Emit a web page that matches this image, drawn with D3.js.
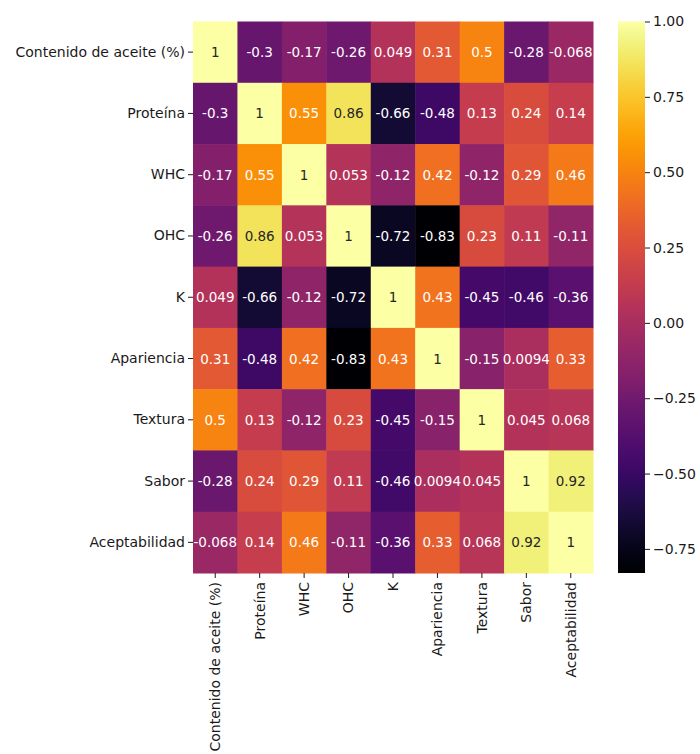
<!DOCTYPE html>
<html>
<head>
<meta charset="utf-8">
<script src="https://cdn.jsdelivr.net/npm/d3@7"></script>
<style>
  html, body { margin: 0; padding: 0; background: #fff; }
  svg { display: block; font-family: "DejaVu Sans", sans-serif; }
</style>
</head>
<body>
<svg id="chart" width="700" height="754"></svg>
<script>
// Variables of the correlation matrix (rows and columns share the same order)
const variables = ["Contenido de aceite (%)", "Proteína", "WHC", "OHC", "K",
                   "Apariencia", "Textura", "Sabor", "Aceptabilidad"];

// Pearson correlations, one row per variable
const rowContenido   = [1, -0.3, -0.17, -0.26, 0.049, 0.31, 0.5, -0.28, -0.068];
const rowProteina    = [-0.3, 1, 0.55, 0.86, -0.66, -0.48, 0.13, 0.24, 0.14];
const rowWHC         = [-0.17, 0.55, 1, 0.053, -0.12, 0.42, -0.12, 0.29, 0.46];
const rowOHC         = [-0.26, 0.86, 0.053, 1, -0.72, -0.83, 0.23, 0.11, -0.11];
const rowK           = [0.049, -0.66, -0.12, -0.72, 1, 0.43, -0.45, -0.46, -0.36];
const rowApariencia  = [0.31, -0.48, 0.42, -0.83, 0.43, 1, -0.15, 0.0094, 0.33];
const rowTextura     = [0.5, 0.13, -0.12, 0.23, -0.45, -0.15, 1, 0.045, 0.068];
const rowSabor       = [-0.28, 0.24, 0.29, 0.11, -0.46, 0.0094, 0.045, 1, 0.92];
const rowAceptab     = [-0.068, 0.14, 0.46, -0.11, -0.36, 0.33, 0.068, 0.92, 1];

// Colorbar tick values
const colorbarTicks = [-0.75, -0.5, -0.25, 0, 0.25, 0.5, 0.75, 1];

const matrix = [rowContenido, rowProteina, rowWHC, rowOHC, rowK,
                rowApariencia, rowTextura, rowSabor, rowAceptab];

const cells = [];
matrix.forEach((row, i) => row.forEach((v, j) => cells.push({r: variables[i], c: variables[j], v})));

const svg = d3.select("#chart");
const plotLeft = 193, plotRight = 593, plotTop = 21.5, plotBottom = 573;
const tickFont = 14, annotFont = 13.5, ink = "#1a1a1a";

const x = d3.scaleBand().domain(variables).range([plotLeft, plotRight]);
const y = d3.scaleBand().domain(variables).range([plotTop, plotBottom]);

const vmin = d3.min(cells, d => d.v), vmax = d3.max(cells, d => d.v);
const color = d3.scaleSequential(d3.interpolateInferno).domain([vmin, vmax]);

// Heatmap cells
svg.append("g").selectAll("rect").data(cells).join("rect")
  .attr("x", d => x(d.c))
  .attr("y", d => y(d.r))
  .attr("width", x.bandwidth() + 0.5)
  .attr("height", y.bandwidth() + 0.5)
  .attr("fill", d => color(d.v));

// Text colour from relative luminance of the cell colour
function luminance(c) {
  const rgb = d3.rgb(c);
  const f = u => { u /= 255; return u <= 0.03928 ? u / 12.92 : Math.pow((u + 0.055) / 1.055, 2.4); };
  return 0.2126 * f(rgb.r) + 0.7152 * f(rgb.g) + 0.0722 * f(rgb.b);
}

svg.append("g").selectAll("text").data(cells).join("text")
  .attr("x", d => x(d.c) + x.bandwidth() / 2)
  .attr("y", d => y(d.r) + y.bandwidth() / 2)
  .attr("text-anchor", "middle")
  .attr("dominant-baseline", "central")
  .attr("font-size", annotFont)
  .attr("fill", d => luminance(color(d.v)) > 0.408 ? "#262626" : "#ffffff")
  .text(d => String(d.v));

// Axes
const yAxis = svg.append("g")
  .attr("transform", `translate(${plotLeft},0)`)
  .call(d3.axisLeft(y).tickSize(5).tickPadding(3));
yAxis.select(".domain").remove();
yAxis.selectAll("text").attr("font-size", tickFont).attr("fill", ink).attr("font-family", "DejaVu Sans");
yAxis.selectAll("line").attr("stroke", ink);

const xAxis = svg.append("g")
  .attr("transform", `translate(0,${plotBottom})`)
  .call(d3.axisBottom(x).tickSize(5).tickPadding(3));
xAxis.select(".domain").remove();
xAxis.selectAll("line").attr("stroke", ink);
xAxis.selectAll("text")
  .attr("font-size", tickFont).attr("fill", ink).attr("font-family", "DejaVu Sans")
  .attr("transform", "rotate(-90)")
  .attr("text-anchor", "end")
  .attr("dy", "0.35em")
  .attr("x", -9)
  .attr("y", 0);

// Colorbar
const cbLeft = 618, cbWidth = 27;
const cbScale = d3.scaleLinear().domain([vmin, vmax]).range([plotBottom, plotTop]);
const defs = svg.append("defs");
const grad = defs.append("linearGradient").attr("id", "cbgrad")
  .attr("x1", 0).attr("y1", 1).attr("x2", 0).attr("y2", 0);
d3.range(0, 1.0001, 0.02).forEach(t => {
  grad.append("stop").attr("offset", t).attr("stop-color", d3.interpolateInferno(t));
});
svg.append("rect")
  .attr("x", cbLeft).attr("y", plotTop)
  .attr("width", cbWidth).attr("height", plotBottom - plotTop)
  .attr("fill", "url(#cbgrad)");

const cbAxis = svg.append("g")
  .attr("transform", `translate(${cbLeft + cbWidth},0)`)
  .call(d3.axisRight(cbScale).tickValues(colorbarTicks).tickSize(5).tickPadding(3)
    .tickFormat(d => d3.format(".2f")(d).replace("-", "\u2212")));
cbAxis.select(".domain").remove();
cbAxis.selectAll("line").attr("stroke", ink);
cbAxis.selectAll("text").attr("font-size", tickFont).attr("fill", ink).attr("font-family", "DejaVu Sans");
</script>
</body>
</html>
